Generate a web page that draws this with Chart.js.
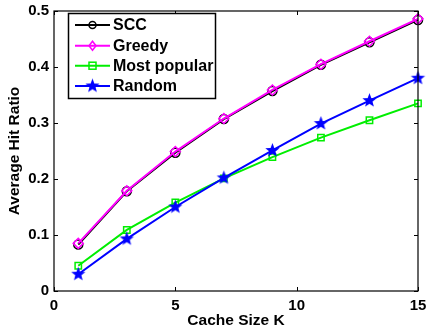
<!DOCTYPE html>
<html><head><meta charset="utf-8">
<style>html,body{margin:0;padding:0;background:#fff;}canvas{display:block;}</style>
<script src="https://cdn.jsdelivr.net/npm/chart.js@4/dist/chart.umd.min.js"></script>
</head><body>
<canvas id="c" width="426" height="332"></canvas>
<script>
const cacheSizes = [1, 3, 5, 7, 9, 11, 13, 15];
const sccValues = [0.083, 0.178, 0.247, 0.307, 0.357, 0.404, 0.444, 0.484];
const greedyValues = [0.085, 0.179, 0.249, 0.308, 0.359, 0.405, 0.446, 0.486];
const mostPopularValues = [0.045, 0.109, 0.158, 0.201, 0.239, 0.274, 0.305, 0.335];
const randomValues = [0.030, 0.093, 0.150, 0.202, 0.251, 0.299, 0.340, 0.380];
const xTicks = [0, 5, 10, 15];
const yTicks = [0, 0.1, 0.2, 0.3, 0.4, 0.5];
const seriesNames = ['SCC', 'Greedy', 'Most popular', 'Random'];

const FONT = '"Liberation Sans", Arial, Helvetica, sans-serif';

function makeStar(r, color) {
  const cv = document.createElement('canvas');
  const s = Math.ceil(r * 2 + 2);
  cv.width = s; cv.height = s;
  const g = cv.getContext('2d');
  const cx = s / 2, cy = s / 2, ri = r * 0.42;
  g.beginPath();
  for (let i = 0; i < 10; i++) {
    const a = -Math.PI / 2 + i * Math.PI / 5;
    const rr = i % 2 === 0 ? r : ri;
    const px = cx + rr * Math.cos(a), py = cy + rr * Math.sin(a);
    if (i === 0) g.moveTo(px, py); else g.lineTo(px, py);
  }
  g.closePath();
  g.fillStyle = color; g.fill();
  return cv;
}
const starImg = makeStar(7.5, '#0000ff');

function toPts(ys) { return cacheSizes.map((x, i) => ({x: x, y: ys[i]})); }

const datasets = [
  {label: seriesNames[0], data: toPts(sccValues), order: 4, borderColor: '#000000', backgroundColor: 'rgba(0,0,0,0)', pointStyle: 'circle', pointRadius: 4.5, pointBorderWidth: 1.5, pointBorderColor: '#000000'},
  {label: seriesNames[1], data: toPts(greedyValues), order: 3, borderColor: '#ff00ff', backgroundColor: 'rgba(0,0,0,0)', pointStyle: 'rectRot', pointRadius: 5, pointBorderWidth: 1.5, pointBorderColor: '#ff00ff'},
  {label: seriesNames[2], data: toPts(mostPopularValues), order: 2, borderColor: '#00ee00', backgroundColor: 'rgba(0,0,0,0)', pointStyle: 'rect', pointRadius: 4.5, pointBorderWidth: 1.5, pointBorderColor: '#00ee00'},
  {label: seriesNames[3], data: toPts(randomValues), order: 1, borderColor: '#0000ff', backgroundColor: 'rgba(0,0,0,0)', pointStyle: starImg, pointRadius: 7, pointBorderWidth: 0}
].map(d => Object.assign({borderWidth: 2, tension: 0, clip: false, fill: false}, d));

const frame = {
  id: 'frame',
  afterDatasetsDraw(chart) {
    const ctx = chart.ctx, a = chart.chartArea;
    const xs = chart.scales.x, ys = chart.scales.y;
    ctx.save();
    ctx.strokeStyle = '#000'; ctx.lineWidth = 1.2;
    ctx.strokeRect(a.left, a.top, a.right - a.left, a.bottom - a.top);
    ctx.lineWidth = 1;
    ctx.beginPath();
    xTicks.forEach(v => {
      const p = Math.round(xs.getPixelForValue(v)) + 0.5;
      ctx.moveTo(p, a.bottom); ctx.lineTo(p, a.bottom - 4);
      ctx.moveTo(p, a.top); ctx.lineTo(p, a.top + 4);
    });
    yTicks.forEach(v => {
      const p = Math.round(ys.getPixelForValue(v)) + 0.5;
      ctx.moveTo(a.left, p); ctx.lineTo(a.left + 4, p);
      ctx.moveTo(a.right, p); ctx.lineTo(a.right - 4, p);
    });
    ctx.stroke();
    // legend
    const lx = 68, ly = 13, lw = 147, lh = 85;
    ctx.fillStyle = '#fff';
    ctx.fillRect(lx, ly, lw, lh);
    ctx.strokeStyle = '#000'; ctx.lineWidth = 1.5;
    ctx.strokeRect(lx + 0.5, ly + 0.5, lw, lh);
    const rows = [25, 45.7, 65.7, 86];
    chart.data.datasets.forEach((ds, i) => {
      const y = rows[i];
      ctx.strokeStyle = ds.borderColor; ctx.lineWidth = 2;
      ctx.beginPath(); ctx.moveTo(75, y); ctx.lineTo(110, y); ctx.stroke();
      const cx = 92.5;
      ctx.lineWidth = 1.5;
      ctx.beginPath();
      if (ds.pointStyle === 'circle') { ctx.arc(cx, y, 3.5, 0, Math.PI * 2); ctx.stroke(); }
      else if (ds.pointStyle === 'rectRot') { ctx.moveTo(cx, y - 4.5); ctx.lineTo(cx + 3.5, y); ctx.lineTo(cx, y + 4.5); ctx.lineTo(cx - 3.5, y); ctx.closePath(); ctx.stroke(); }
      else if (ds.pointStyle === 'rect') { ctx.strokeRect(cx - 3.5, y - 3.5, 7, 7); }
      else { const im = ds.pointStyle; ctx.drawImage(im, cx - im.width / 2, y - im.height / 2); }
      ctx.fillStyle = '#000';
      ctx.font = 'bold 16px ' + FONT;
      ctx.textBaseline = 'middle'; ctx.textAlign = 'left';
      ctx.fillText(ds.label, 113, y + 1);
    });
    ctx.restore();
  }
};

new Chart(document.getElementById('c'), {
  type: 'line',
  data: {datasets: datasets},
  options: {
    responsive: false, animation: false, devicePixelRatio: 1,
    layout: {padding: {left: 0, right: 8, top: 11, bottom: 0}},
    plugins: {legend: {display: false}, tooltip: {enabled: false}},
    scales: {
      x: {
        type: 'linear', min: 0, max: 15,
        afterBuildTicks: s => { s.ticks = xTicks.map(v => ({value: v})); },
        afterFit: s => { s.height = 41; s.paddingLeft = 0; s.paddingRight = 0; },
        grid: {display: false, drawTicks: false},
        border: {display: false},
        ticks: {color: '#000', font: {family: FONT, size: 15, weight: 'bold'}, padding: 6, maxRotation: 0, autoSkip: false},
        title: {display: true, text: 'Cache Size K', color: '#000', font: {family: FONT, size: 15.5, weight: 'bold'}, padding: {top: 0, bottom: 2}}
      },
      y: {
        type: 'linear', min: 0, max: 0.5,
        afterBuildTicks: s => { s.ticks = yTicks.map(v => ({value: v})); },
        afterFit: s => { s.width = 54; s.paddingTop = 0; s.paddingBottom = 0; },
        grid: {display: false, drawTicks: false},
        border: {display: false},
        ticks: {color: '#000', font: {family: FONT, size: 15, weight: 'bold'}, padding: 5, autoSkip: false,
          callback: v => v === 0 ? '0' : v.toFixed(1)},
        title: {display: true, text: 'Average Hit Ratio', color: '#000', font: {family: FONT, size: 15.5, weight: 'bold'}, padding: {top: 5, bottom: 0}}
      }
    }
  },
  plugins: [frame]
});
</script>
</body></html>
